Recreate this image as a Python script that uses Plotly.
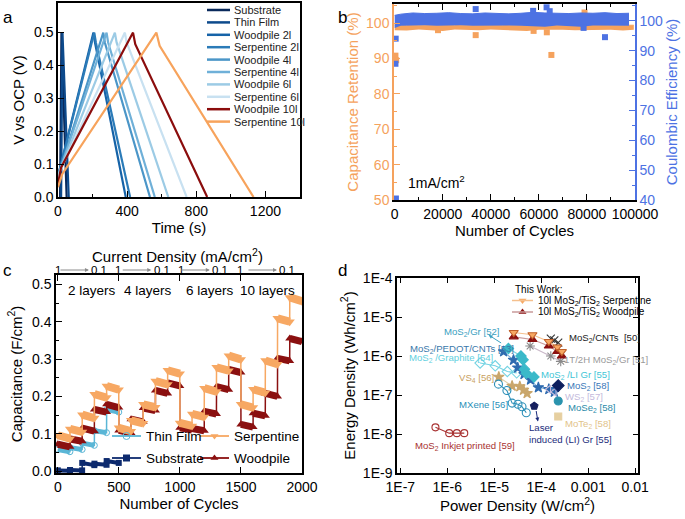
import plotly.graph_objects as go

W, H = 685, 519
FONT = "Liberation Sans, Arial, sans-serif"


def fx(p):
    return p / W


def fy(p):
    return 1 - p / H


# ---------------- Panel a : galvanostatic charge/discharge ----------------
gcd_names = ["Substrate", "Thin Film", "Woodpile 2l", "Serpentine 2l", "Woodpile 4l",
             "Serpentine 4l", "Woodpile 6l", "Serpentine 6l", "Woodpile 10l", "Serpentine 10l"]
gcd_colors = ["#0a2a5c", "#0d4a8c", "#1663a8", "#2b7bb8", "#4b96c8",
              "#6fb0d8", "#9ccbe5", "#c8e1f1", "#8b0d0d", "#f7a35c"]
gcd_t_start = [12, 18, 0, 0, 0, 0, 0, 0, 0, 0]
gcd_v_start = [0.00, 0.00, 0.04, 0.04, 0.05, 0.05, 0.05, 0.05, 0.04, 0.03]
gcd_t_knee = [14, 20, 8, 8, 10, 10, 12, 12, 18, 25]
gcd_v_knee = [0.10, 0.10, 0.08, 0.08, 0.08, 0.08, 0.08, 0.08, 0.09, 0.07]
gcd_t_peak = [20, 26, 205, 210, 262, 281, 329, 387, 434, 569]
gcd_v_peak = [0.50, 0.50, 0.50, 0.50, 0.50, 0.50, 0.50, 0.50, 0.50, 0.50]
gcd_t_drop = [22, 28, 214, 219, 271, 290, 339, 397, 447, 588]
gcd_v_drop = [0.47, 0.47, 0.47, 0.47, 0.47, 0.47, 0.47, 0.47, 0.465, 0.46]
gcd_t_end = [50, 62, 392, 417, 532, 560, 638, 744, 863, 1131]

# ---------------- Panel b : cycling stability ----------------
cr_band_x = [0, 5000, 10000, 15000, 20000, 25000, 30000, 35000, 40000, 45000, 50000,
             55000, 60000, 65000, 70000, 75000, 80000, 85000, 90000, 95000, 99500]
cr_band_hi = [99.5, 99.3, 99.4, 99.3, 99.4, 99.3, 99.4, 99.3, 99.4, 99.3, 99.4,
              99.3, 99.4, 99.3, 99.4, 99.3, 99.4, 99.3, 99.4, 99.3, 99.4]
cr_band_lo = [98.0, 97.9, 98.2, 98.1, 97.8, 98.2, 98.1, 98.0, 98.2, 98.1, 98.0,
              97.8, 98.1, 98.2, 98.1, 98.0, 98.1, 98.2, 98.1, 97.9, 98.1]
ce_band_x = [0, 2500, 7500, 12500, 17500, 22500, 27500, 32500, 37500, 42500, 47500,
             52500, 57500, 62500, 67500, 72500, 77500, 82500, 87500, 92500, 97500]
ce_band_hi = [101.8, 102.2, 102.6, 102.4, 102.5, 102.7, 102.4, 102.3, 102.6, 102.4, 102.3,
              102.5, 102.8, 102.6, 102.5, 102.4, 102.6, 102.5, 102.7, 102.4, 102.5]
ce_band_lo = [97.6, 98.3, 98.4, 98.5, 98.3, 98.4, 98.5, 98.3, 98.4, 98.5, 98.4,
              98.3, 98.2, 98.0, 98.4, 98.3, 98.0, 98.4, 98.3, 98.2, 98.3]
cr_out_x = [300, 600, 18000, 33700, 57800, 63300, 65200, 79000]
cr_out_y = [90.8, 89.5, 98.0, 96.6, 97.8, 97.4, 91.0, 103.0]
ce_out_x = [300, 400, 500, 33700, 57600, 63200, 64500, 78600, 87500]
ce_out_y = [85.6, 94.0, 40.5, 103.9, 103.3, 104.5, 103.2, 97.6, 94.5]

# ---------------- Panel c : rate capability ----------------
step_start = [0, 100, 200, 300, 400, 500, 600, 700, 800, 900,
              1000, 1100, 1200, 1300, 1400, 1500, 1600, 1700, 1800, 1900]
step_end = [99, 199, 299, 399, 499, 599, 699, 799, 899, 999,
            1099, 1199, 1299, 1399, 1499, 1599, 1699, 1799, 1899, 1999]
serp_v0 = [0.096, 0.113, 0.151, 0.206, 0.228, 0.116, 0.136, 0.179, 0.241, 0.270,
           0.129, 0.153, 0.222, 0.278, 0.309, 0.179, 0.219, 0.296, 0.409, 0.465]
serp_v1 = [0.087, 0.105, 0.142, 0.197, 0.218, 0.107, 0.128, 0.171, 0.232, 0.261,
           0.121, 0.145, 0.213, 0.269, 0.299, 0.170, 0.210, 0.286, 0.400, 0.455]
wood_v0 = [0.072, 0.086, 0.115, 0.165, 0.179, 0.109, 0.139, 0.169, 0.216, 0.236,
           0.116, 0.114, 0.160, 0.226, 0.272, 0.125, 0.155, 0.208, 0.302, 0.355]
wood_v1 = [0.065, 0.080, 0.107, 0.158, 0.170, 0.102, 0.132, 0.162, 0.208, 0.228,
           0.110, 0.108, 0.153, 0.218, 0.264, 0.118, 0.148, 0.200, 0.295, 0.347]
tf_v0 = [0.058, 0.063, 0.075, 0.108, 0.165]
tf_v1 = [0.052, 0.058, 0.069, 0.103, 0.158]
sub_v0 = [0.002, 0.003, 0.022, 0.020, 0.027]
sub_v1 = [0.001, 0.002, 0.016, 0.017, 0.022]
layer_labels = ["2 layers", "4 layers", "6 layers", "10 layers"]
layer_label_x = [280, 740, 1250, 1720]
cd_one_x = [0, 490, 1005, 1490]
cd_tenth_x = [340, 850, 1330, 1880]

# ---------------- Panel d : Ragone plot ----------------
serp_P = [2.6e-5, 6.5e-5, 1.45e-4, 2.2e-4, 2.75e-4]
serp_E = [4.0e-6, 3.5e-6, 2.35e-6, 1.7e-6, 1.3e-6]
wood_P = [2.6e-5, 6.5e-5, 1.45e-4, 2.2e-4, 2.75e-4]
wood_E = [3.1e-6, 2.65e-6, 1.8e-6, 1.3e-6, 1.0e-6]
cnt_P = [1.6e-4, 1.9e-4, 2.3e-4]
cnt_E = [2.8e-6, 2.5e-6, 2.2e-6]
gr51_P = [5.8e-5, 1.6e-4, 2.6e-4]
gr51_E = [1.8e-6, 1.0e-6, 7.3e-7]
pedot_P = [1.58e-5, 2.57e-5, 3.16e-5, 4.3e-5, 5.9e-5, 8.7e-5]
pedot_E = [1.3e-6, 7.9e-7, 5.0e-7, 3.4e-7, 2.45e-7, 1.55e-7]
ws2_P = [1.45e-4, 1.9e-4]
ws2_E = [1.4e-7, 1.2e-7]
ligr_P = [2.0e-5, 3.7e-5, 4.1e-5, 4.4e-5, 4.8e-5, 7.0e-5]
ligr_E = [1.55e-6, 1.0e-6, 8.0e-7, 4.6e-7, 3.6e-7, 2.9e-7]
graphite_P = [5.0e-6, 1.05e-5, 1.9e-5, 3.0e-5]
graphite_E = [6.6e-7, 5.6e-7, 4.0e-7, 3.7e-7]
vs4_P = [1.25e-5, 2.4e-5, 3.5e-5, 4.2e-5, 5.0e-5]
vs4_E = [2.9e-7, 1.7e-7, 1.65e-7, 1.35e-7, 1.1e-7]
mxene_P = [1.23e-5, 1.86e-5, 2.4e-5, 3.2e-5, 3.9e-5, 4.8e-5]
mxene_E = [1.9e-7, 1.3e-7, 6.2e-8, 5.8e-8, 5.0e-8, 3.5e-8]
lig_P = [7.1e-5]
lig_E = [5.2e-8]
mos2_P = [2.3e-4]
mos2_E = [1.75e-7]
mose2_P = [2.3e-4]
mose2_E = [7.0e-8]
mote2_P = [2.3e-4]
mote2_E = [2.8e-8]
ink_P = [5.6e-7, 1.1e-6, 1.6e-6, 2.3e-6]
ink_E = [1.48e-8, 1.05e-8, 1.05e-8, 1.05e-8]
d_major_x = [1e-7, 1e-6, 1e-5, 1e-4, 1e-3, 1e-2]
d_major_x_text = ["1E-7", "1E-6", "1E-5", "1E-4", "0.001", "0.01"]
d_major_y = [1e-9, 1e-8, 1e-7, 1e-6, 1e-5, 1e-4]
d_major_y_text = ["1E-9", "1E-8", "1E-7", "1E-6", "1E-5", "1E-4"]

ORANGE = "#f5a25d"
BLUE = "#4d72e3"
DARKRED = "#8b1010"
SERP = "#f7a863"
TF = "#5ab6d6"
NAVY = "#0d2a6e"

fig = go.Figure()

# ---- panel a traces
for i in range(len(gcd_names)):
    fig.add_trace(go.Scatter(
        x=[gcd_t_start[i], gcd_t_knee[i], gcd_t_peak[i], gcd_t_drop[i], gcd_t_end[i]],
        y=[gcd_v_start[i], gcd_v_knee[i], gcd_v_peak[i], gcd_v_drop[i], 0.0],
        mode="lines", line=dict(color=gcd_colors[i], width=2.2),
        xaxis="x", yaxis="y", showlegend=False, hoverinfo="skip"))

# ---- panel b traces
fig.add_trace(go.Scatter(x=cr_band_x, y=cr_band_lo, mode="lines", line=dict(width=0, color=ORANGE),
                         xaxis="x2", yaxis="y2", showlegend=False, hoverinfo="skip"))
fig.add_trace(go.Scatter(x=cr_band_x, y=cr_band_hi, mode="lines", line=dict(width=1, color=ORANGE),
                         fill="tonexty", fillcolor=ORANGE,
                         xaxis="x2", yaxis="y2", showlegend=False, hoverinfo="skip"))
fig.add_trace(go.Scatter(x=cr_out_x, y=cr_out_y, mode="markers",
                         marker=dict(symbol="square", size=6, color=ORANGE),
                         xaxis="x2", yaxis="y2", showlegend=False))
fig.add_trace(go.Scatter(x=ce_band_x, y=ce_band_lo, mode="lines", line=dict(width=0, color=BLUE),
                         xaxis="x2", yaxis="y3", showlegend=False, hoverinfo="skip"))
fig.add_trace(go.Scatter(x=ce_band_x, y=ce_band_hi, mode="lines", line=dict(width=1, color=BLUE),
                         fill="tonexty", fillcolor=BLUE,
                         xaxis="x2", yaxis="y3", showlegend=False, hoverinfo="skip"))
fig.add_trace(go.Scatter(x=ce_out_x, y=ce_out_y, mode="markers",
                         marker=dict(symbol="square", size=6, color=BLUE),
                         xaxis="x2", yaxis="y3", showlegend=False))


# ---- panel c traces
def step_traces(starts, ends, v0, v1, color, symbol, band_w, msize):
    bx, by, lx, ly = [], [], [], []
    for s, e, a, b in zip(starts, ends, v0, v1):
        bx += [s, e, None]
        by += [a, b, None]
        lx += [s, e]
        ly += [a, b]
    fig.add_trace(go.Scatter(x=bx, y=by, mode="lines", line=dict(color=color, width=band_w),
                             xaxis="x3", yaxis="y4", showlegend=False, hoverinfo="skip"))
    fig.add_trace(go.Scatter(x=lx, y=ly, mode="lines+markers", line=dict(color=color, width=1.5),
                             marker=dict(symbol=symbol, size=msize, color=color),
                             xaxis="x3", yaxis="y4", showlegend=False))


step_traces(step_start[:5], step_end[:5], sub_v0, sub_v1, NAVY, "square", 4, 6)
step_traces(step_start[:5], step_end[:5], tf_v0, tf_v1, TF, "circle-open", 5, 6)
step_traces(step_start, step_end, wood_v0, wood_v1, DARKRED, "triangle-up", 7, 8)
step_traces(step_start, step_end, serp_v0, serp_v1, SERP, "triangle-down", 8, 9)


# ---- panel d traces
def rag(P, E, color, symbol, size=7, line=True, lcolor=None, mline=None):
    fig.add_trace(go.Scatter(
        x=P, y=E, mode="lines+markers" if line else "markers",
        line=dict(color=lcolor or color, width=1.1),
        marker=dict(symbol=symbol, size=size, color=color,
                    line=dict(color=mline or color, width=1.1)),
        xaxis="x4", yaxis="y5", showlegend=False))


rag(ink_P, ink_E, "#a83232", "circle-open", 7)
rag(graphite_P, graphite_E, "#74d3e3", "diamond-open", 8)
rag(vs4_P, vs4_E, "#c9a66b", "star", 8, lcolor="#e0cfa8")
rag(mxene_P, mxene_E, "#2b8fb8", "circle-open", 8)
rag(pedot_P + ws2_P, pedot_E + ws2_E, "#2e6bb0", "star", 8, lcolor="#7fb0d8")
rag(ws2_P, ws2_E, "#c8bedd", "triangle-left-open", 7, line=False)
rag(ligr_P, ligr_E, "#3bb9c9", "diamond", 8, lcolor="#7fd3de")
rag(lig_P, lig_E, "#16205e", "pentagon", 8, line=False)
rag(mos2_P, mos2_E, "#0e1f5e", "diamond", 9, line=False)
rag(mose2_P, mose2_E, "#2a93ad", "circle", 8, line=False)
rag(mote2_P, mote2_E, "#e6cfa0", "square", 7, line=False)
rag(gr51_P, gr51_E, "#8a8a8a", "asterisk-open", 8, lcolor="#c9b8c8")
rag(cnt_P, cnt_E, "#333333", "x-thin-open", 8, lcolor="#666666")
rag(wood_P, wood_E, DARKRED, "triangle-up", 8, lcolor="#c99a9a")
rag(serp_P, serp_E, SERP, "triangle-down", 8, lcolor="#f5c08e", mline="#c0602a")

# ---------------- layout ----------------
tickfont = dict(family=FONT, size=14, color="black")
titlefont = dict(family=FONT, size=15, color="black")


def ax(**kw):
    base = dict(showline=True, linecolor="black", linewidth=1.5, ticks="inside",
                tickcolor="black", tickwidth=1.3, zeroline=False, showgrid=False,
                tickfont=tickfont, ticklen=6, automargin=False)
    base.update(kw)
    return base


fig.update_layout(
    width=W, height=H, margin=dict(l=0, r=0, t=0, b=0, autoexpand=False),
    paper_bgcolor="white", plot_bgcolor="rgba(0,0,0,0)", showlegend=False,
    font=dict(family=FONT, color="black"),
    # panel a
    xaxis=ax(domain=[fx(58), fx(300)], anchor="y", range=[0, 1400], mirror=True,
             tick0=0, dtick=400,
             minor=dict(dtick=200, ticks="inside", ticklen=3, tickcolor="black"),
             title=dict(text="Time (s)", font=titlefont, standoff=2)),
    yaxis=ax(domain=[fy(197), fy(3)], anchor="x", range=[0, 0.59], mirror=True,
             dtick=0.1, tickformat=".1f",
             title=dict(text="V vs OCP (V)", font=titlefont, standoff=6)),
    # panel b
    xaxis2=ax(domain=[fx(394), fx(635)], anchor="y2", range=[-300, 100000], mirror="ticks",
              tick0=0, dtick=20000, tickformat="d",
              minor=dict(dtick=10000, ticks="inside", ticklen=3, tickcolor="black"),
              title=dict(text="Number of Cycles", font=titlefont, standoff=4)),
    yaxis2=ax(domain=[fy(200), fy(4)], anchor="x2", range=[50, 105.4], dtick=10,
              linecolor=ORANGE, tickcolor=ORANGE,
              tickfont=dict(family=FONT, size=14, color=ORANGE),
              minor=dict(dtick=5, ticks="inside", ticklen=3, tickcolor=ORANGE),
              title=dict(text="Capacitance Retention (%)",
                         font=dict(family=FONT, size=15, color=ORANGE), standoff=4)),
    yaxis3=ax(domain=[fy(200), fy(4)], anchor="x2", overlaying="y2", side="right",
              range=[40, 105.6], dtick=10, linecolor=BLUE, tickcolor=BLUE,
              tickfont=dict(family=FONT, size=14, color=BLUE),
              minor=dict(dtick=5, ticks="inside", ticklen=3, tickcolor=BLUE),
              title=dict(text="Coulombic Efficiency (%)",
                         font=dict(family=FONT, size=15, color=BLUE), standoff=4)),
    # panel c
    xaxis3=ax(domain=[fx(56), fx(302)], anchor="y4", range=[-15, 2000], mirror="ticks",
              tick0=0, dtick=500,
              title=dict(text="Number of Cycles", font=titlefont, standoff=4)),
    yaxis4=ax(domain=[fy(473), fy(275)], anchor="x3", range=[-0.005, 0.525], mirror=True,
              dtick=0.1, tickformat=".1f",
              minor=dict(dtick=0.05, ticks="inside", ticklen=3, tickcolor="black"),
              title=dict(text="Capacitance (F/cm<sup>2</sup>)", font=titlefont, standoff=6)),
    # panel d (major ticks)
    xaxis4=ax(domain=[fx(397), fx(638)], anchor="y5", type="log", range=[-7.07, -1.94],
              mirror="ticks", tickmode="array", tickvals=d_major_x, ticktext=d_major_x_text,
              ticklen=5,
              title=dict(text="Power Density (W/cm<sup>2</sup>)", font=titlefont, standoff=4)),
    yaxis5=ax(domain=[fy(473), fy(278)], anchor="x4", type="log", range=[-9, -4],
              mirror="ticks", tickmode="array", tickvals=d_major_y, ticktext=d_major_y_text,
              ticklen=5,
              title=dict(text="Energy Density (Wh/cm<sup>2</sup>)", font=titlefont, standoff=4)),
    # panel d minor ticks via overlay axes
    xaxis6=dict(domain=[fx(397), fx(638)], anchor="y5", overlaying="x4", type="log",
                range=[-7.07, -1.94], dtick="D2", ticks="inside", ticklen=2.5,
                tickcolor="black", showticklabels=False, showgrid=False, zeroline=False,
                showline=False, mirror="ticks"),
    yaxis7=dict(domain=[fy(473), fy(278)], anchor="x4", overlaying="y5", type="log",
                range=[-9, -4], dtick="D2", ticks="inside", ticklen=2.5,
                tickcolor="black", showticklabels=False, showgrid=False, zeroline=False,
                showline=False, mirror="ticks"),
    # helper paper-like axes for legend markers
    xaxis5=dict(domain=[0, 1], range=[0, 1], visible=False, anchor="y6"),
    yaxis6=dict(domain=[0, 1], range=[0, 1], visible=False, anchor="x5"),
)

ann = []
shapes = []

# panel letters
for letter, x, y in [("a", 8, 18), ("b", 342, 18), ("c", 8, 270), ("d", 342, 270)]:
    ann.append(dict(text=letter, x=fx(x), y=fy(y), xref="paper", yref="paper",
                    showarrow=False, font=dict(family=FONT, size=17, color="black"),
                    xanchor="center", yanchor="middle"))

# panel a legend (manual)
for i, name in enumerate(gcd_names):
    yy = 10 + 12.4 * i
    shapes.append(dict(type="line", xref="paper", yref="paper", x0=fx(207), x1=fx(230),
                       y0=fy(yy), y1=fy(yy), line=dict(color=gcd_colors[i], width=2.5)))
    ann.append(dict(text=name, x=fx(232), y=fy(yy), xref="paper", yref="paper",
                    showarrow=False, xanchor="left", yanchor="middle",
                    font=dict(family=FONT, size=11, color="#222")))

# panel b text
ann.append(dict(text="1mA/cm<sup>2</sup>", x=fx(406), y=fy(182), xref="paper", yref="paper",
                showarrow=False, xanchor="left", yanchor="middle",
                font=dict(family=FONT, size=14, color="black")))

# panel c: top current-density axis
ann.append(dict(text="Current Density (mA/cm<sup>2</sup>)", x=fx(177), y=fy(255),
                xref="paper", yref="paper", showarrow=False, xanchor="center", yanchor="middle",
                font=dict(family=FONT, size=15, color="black")))
for x1, x2 in zip(cd_one_x, cd_tenth_x):
    ann.append(dict(text="1", x=x1, y=fy(270), xref="x3", yref="paper", showarrow=False,
                    xanchor="center", yanchor="middle", font=dict(family=FONT, size=11.5)))
    ann.append(dict(text="0.1", x=x2, y=fy(270), xref="x3", yref="paper", showarrow=False,
                    xanchor="center", yanchor="middle", font=dict(family=FONT, size=11.5)))
    ann.append(dict(text="", x=x2 - 85, y=fy(270), xref="x3", yref="paper", showarrow=True,
                    ax=-30, ay=0, arrowhead=2, arrowsize=0.8,
                    arrowwidth=1, arrowcolor="#8c8c8c"))
for lbl, lx in zip(layer_labels, layer_label_x):
    ann.append(dict(text=lbl, x=lx, y=0.483, xref="x3", yref="y4", showarrow=False,
                    xanchor="center", yanchor="middle", font=dict(family=FONT, size=13.5)))

# panel c legend (manual)
c_leg = [("Thin Film", TF, "circle-open", 112, 436),
         ("Serpentine", SERP, "triangle-down", 200, 436),
         ("Substrate", NAVY, "square", 112, 458),
         ("Woodpile", DARKRED, "triangle-up", 200, 458)]
for name, col, sym, x0, yy in c_leg:
    shapes.append(dict(type="line", xref="paper", yref="paper", x0=fx(x0), x1=fx(x0 + 29),
                       y0=fy(yy), y1=fy(yy), line=dict(color=col, width=1.8)))
    fig.add_trace(go.Scatter(x=[fx(x0 + 14.5)], y=[fy(yy)], xaxis="x5", yaxis="y6",
                             mode="markers", marker=dict(symbol=sym, size=7, color=col),
                             showlegend=False, hoverinfo="skip"))
    ann.append(dict(text=name, x=fx(x0 + 32), y=fy(yy), xref="paper", yref="paper",
                    showarrow=False, xanchor="left", yanchor="middle",
                    font=dict(family=FONT, size=13.5, color="black")))

# panel d legend (manual)
ann.append(dict(text="This Work:", x=fx(513), y=fy(289), xref="paper", yref="paper",
                showarrow=False, xanchor="left", yanchor="middle",
                font=dict(family=FONT, size=10, color="black")))
d_leg = [("10l MoS<sub>2</sub>/TiS<sub>2</sub> Serpentine", "#f5c08e", SERP, "triangle-down", 300.5),
         ("10l MoS<sub>2</sub>/TiS<sub>2</sub> Woodpile", "#c99a9a", DARKRED, "triangle-up", 312)]
for name, lc, mc, sym, yy in d_leg:
    shapes.append(dict(type="line", xref="paper", yref="paper", x0=fx(512), x1=fx(533),
                       y0=fy(yy), y1=fy(yy), line=dict(color=lc, width=1.5)))
    fig.add_trace(go.Scatter(x=[fx(522.5)], y=[fy(yy)], xaxis="x5", yaxis="y6",
                             mode="markers", marker=dict(symbol=sym, size=7, color=mc),
                             showlegend=False, hoverinfo="skip"))
    ann.append(dict(text=name, x=fx(536), y=fy(yy), xref="paper", yref="paper",
                    showarrow=False, xanchor="left", yanchor="middle",
                    font=dict(family=FONT, size=10, color="black")))

# panel d labels (left edge positions in log10 data units)
d_labels = [
    ("MoS<sub>2</sub>/CNTs  [50]", -3.45, -5.54, "#222222"),
    ("1T/2H MoS<sub>2</sub>/Gr [51]", -3.56, -6.10, "#9a9a9a"),
    ("MoS<sub>2</sub>/Gr [52]", -6.12, -5.38, "#3aa0c0"),
    ("MoS<sub>2</sub>/PEDOT/CNTs [53]", -6.83, -5.82, "#3a78aa"),
    ("MoS<sub>2</sub> /Graphite [54]", -6.86, -6.06, "#62d0e0"),
    ("VS<sub>4</sub> [56]", -5.80, -6.57, "#c8a060"),
    ("MXene [56]", -5.80, -7.24, "#2a8fb8"),
    ("MoS<sub>2</sub> /LI Gr [55]", -4.04, -6.49, "#3fc6d6"),
    ("MoS<sub>2</sub> [58]", -3.49, -6.77, "#3a78b8"),
    ("WS<sub>2</sub> [57]", -3.54, -7.05, "#c4badc"),
    ("MoSe<sub>2</sub> [58]", -3.47, -7.34, "#2a8aa8"),
    ("MoTe<sub>2</sub> [58]", -3.53, -7.74, "#e2c38a"),
    ("Laser<br>induced (LI) Gr [55]", -4.31, -7.98, "#1a2b7a"),
    ("MoS<sub>2</sub> Inkjet printed [59]", -6.74, -8.32, "#a83232"),
]
for txt, lx, ly, col in d_labels:
    ann.append(dict(text=txt, x=lx, y=ly, xref="x4", yref="y5", showarrow=False,
                    xanchor="left", yanchor="middle", align="left",
                    font=dict(family=FONT, size=9.6, color=col)))
# arrows in panel d
ann.append(dict(text="", x=-5.12, y=-5.46, xref="x4", yref="y5", showarrow=True,
                ax=14, ay=9, arrowhead=2, arrowsize=0.8, arrowwidth=1, arrowcolor="#3aa0c0"))
ann.append(dict(text="", x=-4.07, y=-7.68, xref="x4", yref="y5", showarrow=True,
                ax=-2, ay=-12, arrowhead=2, arrowsize=0.8, arrowwidth=1, arrowcolor="#1a2b7a"))

fig.update_layout(annotations=ann, shapes=shapes)

fig.write_html("out.html", config={"displayModeBar": False},
               post_script="document.body.style.margin='0';")
